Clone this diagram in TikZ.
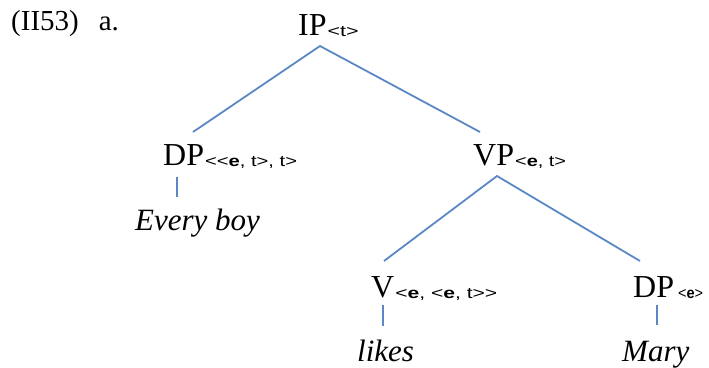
\documentclass[tikz,border=0pt]{standalone}
\usepackage{fontspec}
\setmainfont{Liberation Serif}
\newfontfamily\subfont{Liberation Sans}
\usepackage{graphicx}
\definecolor{branch}{HTML}{5B87C5}
\newcommand{\tsub}[2]{\raisebox{-1.5pt}{\resizebox{#1pt}{\height}{\subfont\fontsize{15.5}{15.5}\selectfont #2}}}
\tikzset{
  lab/.style={anchor=base west, inner sep=0pt, font=\fontsize{32}{32}\selectfont},
  word/.style={anchor=base west, inner sep=0pt, font=\fontsize{31}{31}\selectfont\itshape},
  branchline/.style={draw=branch, line width=1.8pt}
}
\begin{document}
\begin{tikzpicture}[x=1pt,y=-1pt]
\useasboundingbox (0,0) rectangle (709,367);
\node[anchor=base west, inner sep=0pt, font=\fontsize{29}{29}\selectfont] (ex) at (11,30) {(II53)\hspace{20pt}a.};
\node[lab] (ip) at (298,35) {IP\hspace{1pt}\tsub{31}{<t>}};
\node[lab] (dp1) at (163,165) {DP\hspace{1pt}\tsub{92}{<<\textbf{e}, t>, t>}};
\node[lab] (vp) at (473,165) {VP\hspace{1pt}\tsub{51}{<\textbf{e}, t>}};
\node[lab] (v) at (371,297) {V\hspace{1pt}\tsub{102}{<\textbf{e}, <\textbf{e}, t>>}};
\node[lab] (dp2) at (633,297) {DP\hspace{4pt}\tsub{25}{<\textbf{e}>}};
\node[word] (every) at (135,230) {Every boy};
\node[word] (likes) at (357,361) {likes};
\node[word] (mary) at (622,361) {Mary};
\draw[branchline] ([shift={(30,-33)}]dp1.base west) -- ([shift={(22,11)}]ip.base west) -- ([shift={(7,-33)}]vp.base west);
\draw[branchline] ([shift={(13,-36)}]v.base west) -- ([shift={(24,11)}]vp.base west) -- ([shift={(7,-36)}]dp2.base west);
\draw[branchline] ([shift={(14,12)}]dp1.base west) -- ([shift={(42,-33)}]every.base west);
\draw[branchline] ([shift={(12,8)}]v.base west) -- ([shift={(26,-35)}]likes.base west);
\draw[branchline] ([shift={(24,8)}]dp2.base west) -- ([shift={(35,-36)}]mary.base west);
\end{tikzpicture}
\end{document}
